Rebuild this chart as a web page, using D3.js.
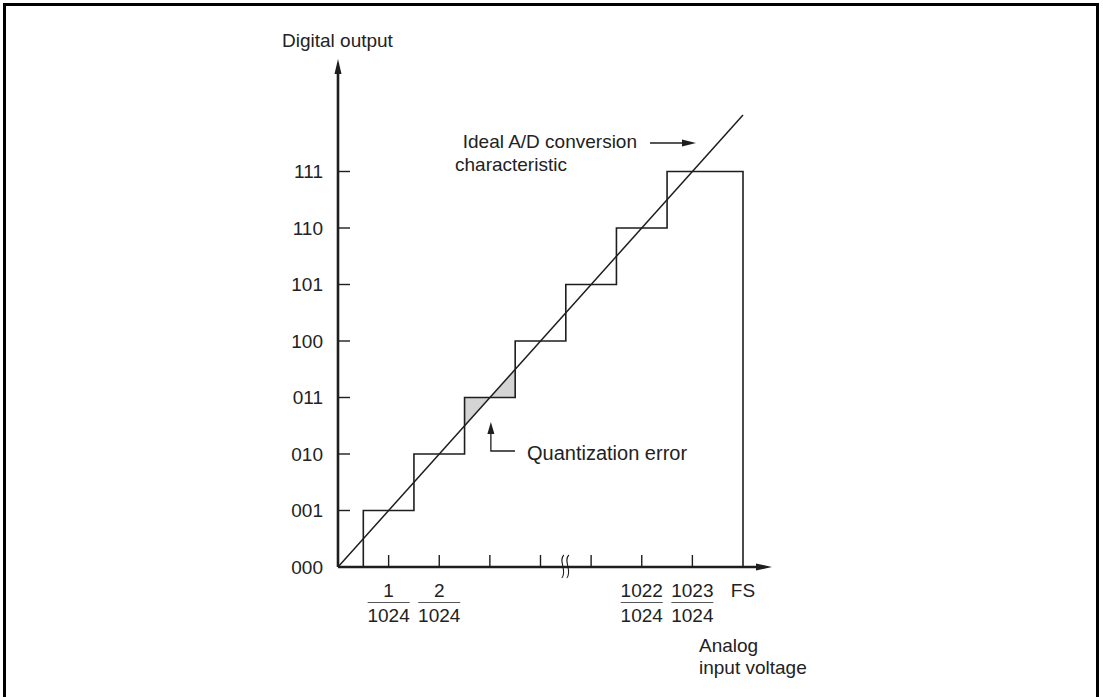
<!DOCTYPE html>
<html>
<head>
<meta charset="utf-8">
<script src="https://cdn.jsdelivr.net/npm/d3@7"></script>
<style>
  html, body { margin: 0; padding: 0; background: #fff; }
  svg { display: block; }
  text { font-family: 'Liberation Sans', Arial, sans-serif; fill: #222; }
</style>
</head>
<body>
<div id="chart"></div>
<script>
// output codes on the y axis (index = code value)
const codeLabels = ['000', '001', '010', '011', '100', '101', '110', '111'];
// each code's step spans [stepStart, stepEnd] in LSB units of analog input
const stepStart = [0, 0.5, 1.5, 2.5, 3.5, 4.5, 5.5, 6.5];
const stepEnd = [0.5, 1.5, 2.5, 3.5, 4.5, 5.5, 6.5, 8];
const xTicks = [1, 2, 3, 4, 5, 6, 7];
const xFractions = [
  { at: 1, num: '1', den: '1024' },
  { at: 2, num: '2', den: '1024' },
  { at: 6, num: '1022', den: '1024' },
  { at: 7, num: '1023', den: '1024' },
];
const fullScale = 8;
const axisBreakAt = 4.5;
const shadedCode = 3;

const width = 1103;
const height = 697;
const ink = '#1e1e1e';

const svg = d3.select('#chart').append('svg')
  .attr('width', width)
  .attr('height', height);

// frame
svg.append('rect')
  .attr('x', 4.5).attr('y', 4.5)
  .attr('width', 1093).attr('height', 720)
  .attr('fill', 'none')
  .attr('stroke', '#000')
  .attr('stroke-width', 3);

const x = d3.scaleLinear().domain([0, fullScale]).range([338, 743]);
const y = d3.scaleLinear().domain([0, fullScale]).range([567, 115]);

const g = svg.append('g');

// shaded quantization error triangles
const c = shadedCode;
const tri1 = [[c - 0.5, c - 0.5], [c - 0.5, c], [c, c]];
const tri2 = [[c, c], [c + 0.5, c], [c + 0.5, c + 0.5]];
[tri1, tri2].forEach((t) => {
  g.append('path')
    .attr('d', d3.line().x((d) => x(d[0])).y((d) => y(d[1]))(t) + 'Z')
    .attr('fill', '#d4d4d4')
    .attr('stroke', 'none');
});

// staircase
const stairs = [];
codeLabels.forEach((lab, i) => {
  stairs.push([stepStart[i], i]);
  stairs.push([stepEnd[i], i]);
});
stairs.push([fullScale, 0]);
g.append('path')
  .attr('d', d3.line().x((d) => x(d[0])).y((d) => y(d[1]))(stairs))
  .attr('fill', 'none')
  .attr('stroke', ink)
  .attr('stroke-width', 1.6);

// ideal characteristic
g.append('line')
  .attr('x1', x(0)).attr('y1', y(0))
  .attr('x2', x(fullScale)).attr('y2', y(fullScale))
  .attr('stroke', ink)
  .attr('stroke-width', 1.5);

// axes
g.append('line')
  .attr('x1', x(0)).attr('y1', y(0))
  .attr('x2', x(0)).attr('y2', 70)
  .attr('stroke', ink).attr('stroke-width', 2.6);
g.append('path')
  .attr('d', `M${x(0)},59 L${x(0) - 3.5},74 L${x(0) + 3.5},74 Z`)
  .attr('fill', ink);

g.append('line')
  .attr('x1', x(0)).attr('y1', y(0))
  .attr('x2', 760).attr('y2', y(0))
  .attr('stroke', ink).attr('stroke-width', 2.6);
g.append('path')
  .attr('d', `M772,${y(0)} L756,${y(0) - 3.5} L756,${y(0) + 3.5} Z`)
  .attr('fill', ink);

// y ticks + labels
g.selectAll('.ytick')
  .data(codeLabels.slice(1).map((d, i) => i + 1))
  .enter().append('line')
  .attr('x1', x(0)).attr('x2', x(0) + 12)
  .attr('y1', (d) => y(d)).attr('y2', (d) => y(d))
  .attr('stroke', ink).attr('stroke-width', 1.4);

g.selectAll('.ylab')
  .data(codeLabels)
  .enter().append('text')
  .attr('x', 323)
  .attr('y', (d, i) => y(i))
  .attr('dy', '0.36em')
  .attr('text-anchor', 'end')
  .style('font-size', '19px')
  .text((d) => d);

// x ticks
g.selectAll('.xtick')
  .data(xTicks)
  .enter().append('line')
  .attr('x1', (d) => x(d)).attr('x2', (d) => x(d))
  .attr('y1', y(0)).attr('y2', y(0) - 12)
  .attr('stroke', ink).attr('stroke-width', 1.4);

// axis break
const bx = x(axisBreakAt);
[-3, 2].forEach((off) => {
  g.append('path')
    .attr('d', `M${bx + off + 1},555 C${bx + off - 5},561 ${bx + off + 5},571 ${bx + off - 1},578`)
    .attr('fill', 'none')
    .attr('stroke', ink)
    .attr('stroke-width', 1.1);
});

// fraction labels
const frac = g.selectAll('.frac')
  .data(xFractions)
  .enter().append('g')
  .attr('transform', (d) => `translate(${x(d.at)},0)`);
frac.append('text')
  .attr('y', 597)
  .attr('text-anchor', 'middle')
  .style('font-size', '19px')
  .text((d) => d.num);
frac.append('line')
  .attr('x1', -21).attr('x2', 21)
  .attr('y1', 602.5).attr('y2', 602.5)
  .attr('stroke', '#555').attr('stroke-width', 1.2);
frac.append('text')
  .attr('y', 622)
  .attr('text-anchor', 'middle')
  .style('font-size', '19px')
  .text((d) => d.den);

g.append('text')
  .attr('x', x(fullScale)).attr('y', 597)
  .attr('text-anchor', 'middle')
  .style('font-size', '19px')
  .text('FS');

// axis titles
g.append('text')
  .attr('x', 282).attr('y', 47)
  .style('font-size', '19px')
  .text('Digital output');

g.append('text')
  .attr('x', 699).attr('y', 652)
  .style('font-size', '19px')
  .text('Analog');
g.append('text')
  .attr('x', 699).attr('y', 674)
  .style('font-size', '19px')
  .text('input voltage');

// ideal characteristic label
g.append('text')
  .attr('x', 637).attr('y', 148)
  .attr('text-anchor', 'end')
  .style('font-size', '19px')
  .text('Ideal A/D conversion');
g.append('text')
  .attr('x', 637 - 182).attr('y', 171)
  .style('font-size', '19px')
  .text('characteristic');
g.append('line')
  .attr('x1', 650).attr('x2', 684)
  .attr('y1', 143).attr('y2', 143)
  .attr('stroke', ink).attr('stroke-width', 1.3);
g.append('path')
  .attr('d', 'M696,143 L682,139.5 L682,146.5 Z')
  .attr('fill', ink);

// quantization error pointer
const qx = x(c) + 1;
g.append('path')
  .attr('d', `M515,451 L${qx},451 L${qx},432`)
  .attr('fill', 'none')
  .attr('stroke', ink).attr('stroke-width', 1.3);
g.append('path')
  .attr('d', `M${qx},422 L${qx - 3.5},434 L${qx + 3.5},434 Z`)
  .attr('fill', ink);
g.append('text')
  .attr('x', 527).attr('y', 460)
  .style('font-size', '20px')
  .text('Quantization error');
</script>
</body>
</html>
